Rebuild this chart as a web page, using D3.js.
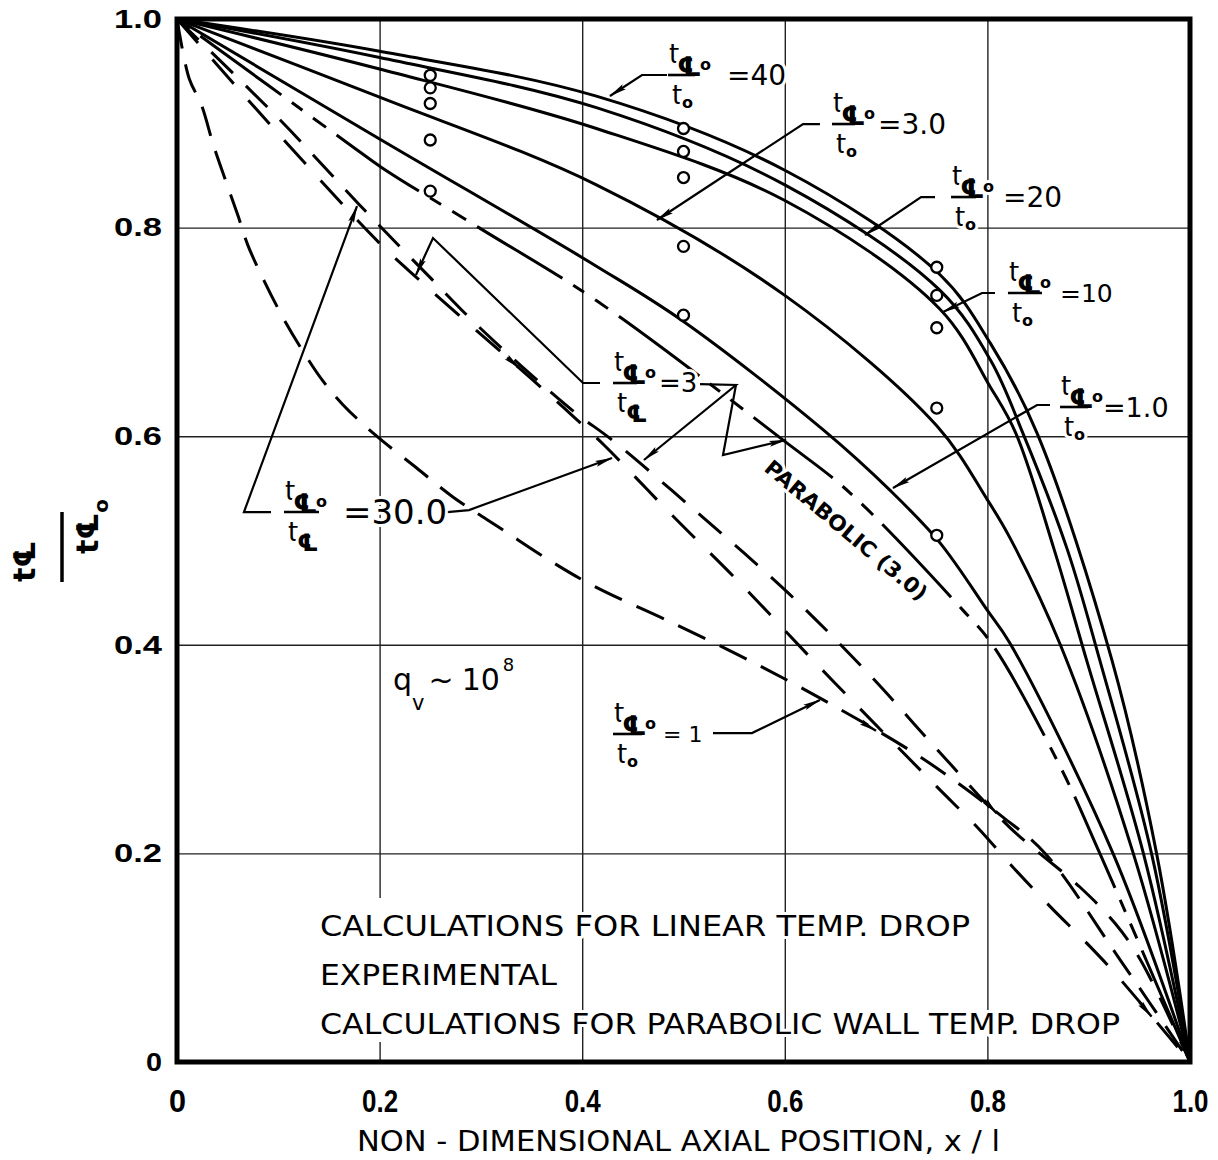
<!DOCTYPE html>
<html lang="en">
<head>
<title>Centre-line temperature ratio</title>
<script src="https://d3js.org/d3.v7.min.js"></script>
<style>
  body { margin: 0; background: #fff; }
  svg { display: block; }
  .grid line { stroke: #222; stroke-width: 1.4; }
  .grid .domain { display: none; }
  .tick text { font-family: "Liberation Sans", Arial, sans-serif; font-weight: bold; fill: #000; }
  .lbl { font-family: "DejaVu Sans", sans-serif; fill: #000; paint-order: stroke; stroke: #fff; stroke-width: 6; stroke-linejoin: round; }
</style>
</head>
<body>
<script>
// ---- data ----------------------------------------------------------------
const xTicks = [0, 0.2, 0.4, 0.6, 0.8, 1.0];
const xTickLabels = ["0", "0.2", "0.4", "0.6", "0.8", "1.0"];
const yTicks = [0, 0.2, 0.4, 0.6, 0.8, 1.0];
const yTickLabels = ["0", "0.2", "0.4", "0.6", "0.8", "1.0"];
const gridValues = [0.2, 0.4, 0.6, 0.8];

// solid curves: calculations for linear temp. drop, t_co/t_o
const solid40 = [[0,1],[0.2,0.969],[0.414,0.926],[0.6,0.855],[0.753,0.755],[0.803,0.689],[0.849,0.603],[0.923,0.385],[0.967,0.2],[1,0]];
const solid20 = [[0,1],[0.2,0.963],[0.414,0.915],[0.6,0.841],[0.753,0.740],[0.803,0.673],[0.835,0.603],[0.879,0.491],[0.911,0.385],[0.962,0.2],[1,0]];
const solid10 = [[0,1],[0.2,0.952],[0.414,0.895],[0.6,0.826],[0.753,0.722],[0.803,0.647],[0.828,0.603],[0.866,0.491],[0.898,0.385],[0.954,0.2],[1,0]];
const solid3 = [[0,1],[0.2,0.925],[0.414,0.841],[0.6,0.735],[0.75,0.61],[0.80,0.539],[0.822,0.503],[0.872,0.40],[0.944,0.2],[1,0]];
const solid1 = [[0,1],[0.2,0.885],[0.414,0.763],[0.5,0.71],[0.638,0.606],[0.704,0.548],[0.753,0.498],[0.80,0.433],[0.822,0.402],[0.924,0.2],[1,0]];
// parabolic (3.0), long dashes
const parabolic3 = [[0,1],[0.17,0.88],[0.203,0.857],[0.298,0.800],[0.414,0.730],[0.6,0.595],[0.664,0.546],[0.776,0.433],[0.805,0.40],[0.872,0.283],[0.911,0.2],[1,0]];
// dashed curves
const dashedOne = [[0,1],[0.012,0.943],[0.024,0.918],[0.036,0.879],[0.048,0.845],[0.060,0.812],[0.070,0.783],[0.086,0.749],[0.105,0.713],[0.124,0.682],[0.144,0.653],[0.164,0.630],[0.196,0.601],[0.236,0.570],[0.272,0.542],[0.322,0.510],[0.371,0.479],[0.414,0.455],[0.487,0.422],[0.569,0.383],[0.653,0.339],[0.736,0.291],[0.815,0.235],[0.857,0.200],[0.931,0.098],[1,0]];
const dashedE = [[0,1],[0.1,0.89],[0.2,0.785],[0.24,0.749],[0.35,0.655],[0.39,0.62],[0.421,0.592],[0.490,0.523],[0.558,0.457],[0.628,0.385],[0.671,0.342],[0.750,0.264],[0.790,0.225],[0.825,0.187],[0.862,0.149],[0.898,0.114],[0.926,0.085],[1,0]];
const dashedF = [[0,1],[0.1,0.905],[0.18,0.822],[0.25,0.752],[0.3,0.703],[0.39,0.625],[0.43,0.596],[0.511,0.529],[0.603,0.450],[0.681,0.374],[0.751,0.299],[0.822,0.225],[0.891,0.168],[0.926,0.133],[0.951,0.098],[1,0]];

// experimental points
const expX = [0.25, 0.5, 0.75];
const exp40 = [0.946, 0.895, 0.762];
const exp20 = [0.934, 0.873, 0.735];
const exp10 = [0.919, 0.848, 0.704];
const exp3 = [0.884, 0.782, 0.627];
const exp1 = [0.835, 0.716, 0.505];

const legendLines = ["CALCULATIONS FOR LINEAR TEMP. DROP", "EXPERIMENTAL", "CALCULATIONS FOR PARABOLIC WALL TEMP. DROP"];

// ---- layout --------------------------------------------------------------
const W = 1218, H = 1160;
const x = d3.scaleLinear().domain([0, 1]).range([177, 1190]);
const y = d3.scaleLinear().domain([0, 1]).range([1062, 19]);

const svg = d3.select("body").append("svg").attr("width", W).attr("height", H);

svg.append("defs").append("marker")
    .attr("id", "arr").attr("viewBox", "0 0 18 8").attr("refX", 17).attr("refY", 4)
    .attr("markerWidth", 18).attr("markerHeight", 8).attr("markerUnits", "userSpaceOnUse")
    .attr("orient", "auto")
    .append("path").attr("d", "M0,1 L18,4 L0,7 L3,4 Z").attr("fill", "#000");

svg.append("clipPath").attr("id", "plot").append("rect")
    .attr("x", x(0)).attr("y", y(1)).attr("width", x(1) - x(0)).attr("height", y(0) - y(1));

// grid
svg.append("g").attr("class", "grid").attr("transform", `translate(0,${y(0)})`)
    .call(d3.axisBottom(x).tickValues(gridValues).tickSize(-(y(0) - y(1))).tickFormat(""));
svg.append("g").attr("class", "grid").attr("transform", `translate(${x(0)},0)`)
    .call(d3.axisLeft(y).tickValues(gridValues).tickSize(-(x(1) - x(0))).tickFormat(""));

// tick labels
const xa = svg.append("g").attr("transform", `translate(0,${y(0)})`)
    .call(d3.axisBottom(x).tickValues(xTicks).tickSize(0).tickPadding(27).tickFormat((d, i) => xTickLabels[i]));
xa.select(".domain").remove();
xa.selectAll("text").attr("font-size", 32).attr("textLength", (d, i) => i === 0 ? 17 : 36).attr("lengthAdjust", "spacingAndGlyphs");

const ya = svg.append("g").attr("transform", `translate(${x(0)},0)`)
    .call(d3.axisLeft(y).tickValues(yTicks).tickSize(0).tickPadding(15).tickFormat((d, i) => yTickLabels[i]));
ya.select(".domain").remove();
ya.selectAll("text").attr("font-size", 26).attr("textLength", (d, i) => i === 0 ? 16 : 48).attr("lengthAdjust", "spacingAndGlyphs");

// white patch behind the legend (original key symbols removed)
svg.append("rect").attr("x", x(0.19)).attr("y", 898).attr("width", x(0.38) - x(0.19)).attr("height", 144).attr("fill", "#fff");

// curves
const line = d3.line().x(d => x(d[0])).y(d => y(d[1])).curve(d3.curveCatmullRom.alpha(0.5));
const plot = svg.append("g").attr("clip-path", "url(#plot)").attr("fill", "none").attr("stroke", "#000");

[solid40, solid20, solid10, solid3, solid1].forEach(s =>
    plot.append("path").attr("d", line(s)).attr("stroke-width", 3));
plot.append("path").attr("d", line(parabolic3)).attr("stroke-width", 3).attr("stroke-dasharray", "16,13,100,13,13,13");
plot.append("path").attr("d", line(dashedOne)).attr("stroke-width", 3).attr("stroke-dasharray", "30,16");
plot.append("path").attr("d", line(dashedE)).attr("stroke-width", 3).attr("stroke-dasharray", "32,22");
plot.append("path").attr("d", line(dashedF)).attr("stroke-width", 3).attr("stroke-dasharray", "30,18");

function straight(pts) { return d3.line().x(d => x(d[0])).y(d => y(d[1]))(pts); }

// small direction arrowheads sitting on the dashed curves
const flowMarks = [[dashedE, 0.338], [dashedOne, 0.69], [dashedF, 0.809], [dashedE, 0.962]];
flowMarks.forEach(([s, at]) => {
    const f = xv => { for (let i = 1; i < s.length; i++) if (s[i][0] >= xv) { const a = s[i-1], b = s[i]; return a[1] + (b[1]-a[1]) * (xv-a[0]) / (b[0]-a[0]); } return 0; };
    const x0 = at - 0.012;
    svg.append("path").attr("d", straight([[x0, f(x0)], [at, f(at)]]))
        .attr("stroke", "#000").attr("stroke-width", 2.5).attr("marker-end", "url(#arr)");
});

// experimental circles
[exp40, exp20, exp10, exp3, exp1].forEach(s =>
    svg.append("g").selectAll("circle").data(s).join("circle")
        .attr("cx", (d, i) => x(expX[i])).attr("cy", d => y(d)).attr("r", 5.5)
        .attr("fill", "#fff").attr("stroke", "#000").attr("stroke-width", 2.3));

// ---- annotations (positions in data units) --------------------------------
const arrows = [
    [[0.4837,0.9463],[0.4590,0.9463],[0.4274,0.9262]],
    [[0.6347,0.8993],[0.6180,0.8993],[0.4738,0.8073]],
    [[0.7483,0.8293],[0.7345,0.8293],[0.6792,0.7929]],
    [[0.8075,0.7373],[0.7947,0.7373],[0.7562,0.7191]],
    [[0.8618,0.6299],[0.8490,0.6299],[0.7068,0.5503]],
    [[0.5291,0.3154],[0.5676,0.3154],[0.6347,0.3471]],
    [[0.0928,0.5273],[0.0661,0.5273],[0.1777,0.8207]],
    [[0.2586,0.5264],[0.2883,0.5292],[0.4294,0.5791]],
    [[0.4176,0.6510],[0.4008,0.6510],[0.2527,0.7900],[0.2359,0.7546]],
    [[0.5163,0.6500],[0.5518,0.6491],[0.4610,0.5772]],
    [[0.5518,0.6491],[0.5390,0.5820],[0.6012,0.5964]]
];
svg.append("g").selectAll("path").data(arrows).join("path")
    .attr("d", straight).attr("fill", "none").attr("stroke", "#000").attr("stroke-width", 2.2)
    .attr("marker-end", "url(#arr)");

// fraction labels: t_co / t_o (or t_c) = value
const labels = [
    {bx: 0.4847, by: 0.9463, len: 27, den: "o", rhs: "=40", rx: 727, fs: 28},
    {bx: 0.6466, by: 0.8993, len: 23, den: "o", rhs: "=3.0", rx: 878, fs: 28},
    {bx: 0.7641, by: 0.8293, len: 25, den: "o", rhs: "=20", rx: 1003, fs: 28},
    {bx: 0.8203, by: 0.7373, len: 34, den: "o", rhs: "=10", rx: 1060, fs: 25},
    {bx: 0.8717, by: 0.6280, len: 28, den: "o", rhs: "=1.0", rx: 1103, fs: 27},
    {bx: 0.4304, by: 0.3145, len: 29, den: "o", rhs: "= 1", rx: 663, fs: 22},
    {bx: 0.1056, by: 0.5273, len: 35, den: "c", rhs: "=30.0", rx: 343, fs: 34},
    {bx: 0.4304, by: 0.6510, len: 24, den: "c", rhs: "=3", rx: 659, fs: 26}
];
const lg = svg.append("g");
labels.forEach(l => {
    const px = x(l.bx), py = y(l.by);
    const num = lg.append("text").attr("class", "lbl");
    num.append("tspan").attr("x", px + 1).attr("y", py - 12).attr("font-size", 26).text("t");
    num.append("tspan").attr("x", px + 9).attr("y", py + 1).attr("font-size", 27).attr("font-weight", "bold").text("\u2104");
    num.append("tspan").attr("x", px + 32).attr("y", py - 5).attr("font-size", 16).attr("font-weight", "bold").text("o");
    lg.append("line").attr("x1", px).attr("x2", px + l.len).attr("y1", py).attr("y2", py)
        .attr("stroke", "#000").attr("stroke-width", 2.6);
    const den = lg.append("text").attr("class", "lbl");
    den.append("tspan").attr("x", px + 4).attr("y", py + 29).attr("font-size", 26).text("t");
    if (l.den === "o") {
        den.append("tspan").attr("x", px + 14).attr("y", py + 33).attr("font-size", 16).attr("font-weight", "bold").text("o");
    } else {
        den.append("tspan").attr("x", px + 13).attr("y", py + 39).attr("font-size", 24).attr("font-weight", "bold").text("\u2104");
    }
    lg.append("text").attr("class", "lbl").attr("x", l.rx).attr("y", py + l.fs * 0.36).attr("font-size", l.fs).text(l.rhs);
});

// parabolic label along its curve
svg.append("text").attr("class", "lbl").attr("transform", "translate(763,470) rotate(40)")
    .attr("font-size", 21).attr("font-weight", "bold").attr("textLength", 205).attr("lengthAdjust", "spacingAndGlyphs")
    .attr("stroke-width", 0).text("PARABOLIC (3.0)");

// q_v ~ 10^8
const q = svg.append("text").attr("class", "lbl").attr("x", 393).attr("y", 690).attr("font-size", 30);
q.append("tspan").text("q");
q.append("tspan").attr("font-size", 21).attr("dy", 20).text("v");
q.append("tspan").attr("dy", -20).attr("dx", 4).text("~");
q.append("tspan").attr("dx", 8).text("10");
q.append("tspan").attr("font-size", 18).attr("dy", -19).attr("dx", 3).text("8");

// legend texts
svg.append("g").selectAll("text").data(legendLines).join("text").attr("class", "lbl")
    .attr("x", 320).attr("y", (d, i) => 936 + i * 49).attr("font-size", 29)
    .attr("textLength", (d, i) => [650, 237, 800][i]).attr("lengthAdjust", "spacingAndGlyphs")
    .text(d => d);

// axis titles
svg.append("text").attr("x", 357).attr("y", 1151).attr("font-family", "DejaVu Sans, sans-serif").attr("font-size", 29)
    .attr("textLength", 643).attr("lengthAdjust", "spacingAndGlyphs").text("NON - DIMENSIONAL  AXIAL  POSITION, x / l");

const yt = svg.append("g").attr("transform", "translate(62,545) rotate(-90)")
    .attr("font-family", "DejaVu Sans, sans-serif").attr("font-weight", "bold");
yt.append("text").attr("x", -37).attr("y", -27).attr("font-size", 30).text("t\u2104");
yt.append("line").attr("x1", -37).attr("x2", 33).attr("stroke", "#000").attr("stroke-width", 3.5);
const dn = yt.append("text").attr("x", -9).attr("y", 36).attr("font-size", 30).text("t\u2104");
dn.append("tspan").attr("font-size", 20).attr("dy", 10).text("o");

// frame
svg.append("rect").attr("x", x(0)).attr("y", y(1)).attr("width", x(1) - x(0)).attr("height", y(0) - y(1))
    .attr("fill", "none").attr("stroke", "#000").attr("stroke-width", 5);
</script>
</body>
</html>
